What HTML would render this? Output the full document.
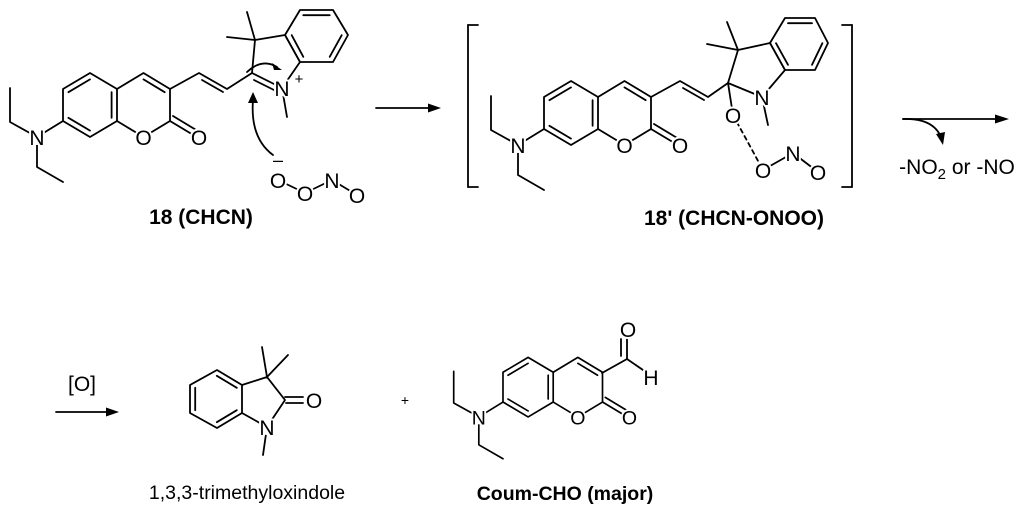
<!DOCTYPE html>
<html><head><meta charset="utf-8"><style>
html,body{margin:0;padding:0;background:#fff;}
svg{display:block;}
.b line,.b polyline,.b path{stroke:#000;stroke-width:1.8;fill:none;stroke-linecap:round;stroke-linejoin:round;}
.a{font-family:"Liberation Sans",sans-serif;font-size:21px;fill:#000;text-anchor:middle;paint-order:stroke;stroke:#fff;stroke-width:4px;stroke-linejoin:round;}
circle.c{fill:#fff;stroke:none;}
.lb{font-family:"Liberation Sans",sans-serif;font-size:21px;font-weight:bold;fill:#000;text-anchor:middle;}
.lt{font-family:"Liberation Sans",sans-serif;font-size:19.5px;fill:#000;text-anchor:middle;}
</style></head><body>
<svg width="1024" height="511" viewBox="0 0 1024 511" xmlns="http://www.w3.org/2000/svg">
<defs>
<g id="coum">
 <g class="b">
  <polyline points="10,88 10,122 37,137 37,167 63,182"/>
  <line x1="37" y1="137" x2="63" y2="121"/>
  <polygon points="90,73 117,89 117,121 90,137 63,121 63,89" style="stroke:#000;stroke-width:1.8;fill:none;stroke-linejoin:round"/>
  <line x1="68.4" y1="92.2" x2="90" y2="79.4"/>
  <line x1="111.6" y1="92.2" x2="111.6" y2="117.8"/>
  <line x1="90" y1="130.6" x2="68.4" y2="117.8"/>
  <polyline points="117,89 143.5,73 170,89 170,121 143.5,137 117,121"/>
  <line x1="143.5" y1="79.4" x2="164.7" y2="92.2"/>
  <line x1="170" y1="121" x2="195" y2="136"/>
  <line x1="173" y1="116" x2="197" y2="130.5"/>
 </g>
  <circle class="c" cx="37" cy="137" r="8"/>
  <circle class="c" cx="143.5" cy="137" r="8"/>
  <circle class="c" cx="199" cy="137" r="8"/>
  <text class="a" x="37" y="145">N</text>
  <text class="a" x="143.5" y="145">O</text>
  <text class="a" x="199" y="145">O</text>
</g>
</defs>

<use href="#coum"/>
<g class="b">
  <polyline points="170,89 199,73 227,89 252,73"/>
  <line x1="202" y1="80" x2="223" y2="92"/>
  <polyline points="252,73 255,40 285,35 300,62 282,88"/>
  <line x1="252" y1="73" x2="282" y2="88"/>
  <line x1="254" y1="80" x2="274" y2="90"/>
  <line x1="255" y1="40" x2="247" y2="12"/>
  <line x1="255" y1="40" x2="227" y2="37"/>
  <polygon points="285,35 300,10 333,10 348,35 333,62 300,62" style="stroke:#000;stroke-width:1.8;fill:none;stroke-linejoin:round"/>
  <line x1="303.3" y1="15.2" x2="329.7" y2="15.2"/>
  <line x1="341.7" y1="35.2" x2="329.7" y2="56.8"/>
  <line x1="291.7" y1="35.2" x2="303.3" y2="56.8"/>
  <line x1="282" y1="88" x2="287" y2="117"/>
  <path d="M247,72 Q262,58 277,67"/>
  <path d="M273,155 Q250,138 253,100"/>
  <line x1="278" y1="180" x2="305" y2="193"/>
  <line x1="305" y1="193" x2="332" y2="180"/>
  <line x1="332" y1="180" x2="357" y2="195"/>
</g>
<polygon points="282,70 272,63 274,70" fill="#000"/>
<polygon points="253,92 248,103 258,103" fill="#000"/>
<circle class="c" cx="282" cy="88" r="8"/>
<circle class="c" cx="278" cy="180" r="8"/>
<circle class="c" cx="305" cy="193" r="8"/>
<circle class="c" cx="332" cy="180" r="8"/>
<circle class="c" cx="357" cy="195" r="8"/>
<text class="a" x="282" y="96">N</text>
<text x="299" y="84" font-family="Liberation Sans,sans-serif" font-size="15" text-anchor="middle">+</text>
<text class="a" x="278" y="188">O</text>
<text x="278" y="166" font-family="Liberation Sans,sans-serif" font-size="18" text-anchor="middle">–</text>
<text class="a" x="305" y="201">O</text>
<text class="a" x="332" y="188">N</text>
<text class="a" x="357" y="203">O</text>
<text class="lb" x="201" y="224">18 (CHCN)</text>

<g class="b"><line x1="376" y1="108" x2="432" y2="108"/></g>
<polygon points="441,108 428,103.5 428,112.5" fill="#000"/>

<g class="b">
  <line x1="468" y1="25" x2="478" y2="25"/><line x1="468" y1="25" x2="468" y2="187"/><line x1="468" y1="187" x2="478" y2="187"/>
  <line x1="842" y1="25" x2="852" y2="25"/><line x1="852" y1="25" x2="852" y2="187"/><line x1="842" y1="187" x2="852" y2="187"/>
</g>
<use href="#coum" transform="translate(481,8)"/>
<g class="b">
  <polyline points="651,97 680,81 708,97 728,83"/>
  <line x1="683" y1="88" x2="704" y2="100"/>
  <polyline points="728,83 738,50 770,43 785,70 762,97 728,83"/>
  <line x1="738" y1="50" x2="727" y2="22"/>
  <line x1="738" y1="50" x2="707" y2="44"/>
  <polygon points="770,43 785,18 815,18 828,43 815,70 785,70" style="stroke:#000;stroke-width:1.8;fill:none;stroke-linejoin:round"/>
  <line x1="788" y1="23.2" x2="812" y2="23.2"/>
  <line x1="822.4" y1="43.2" x2="812" y2="64.8"/>
  <line x1="776" y1="43.2" x2="788" y2="64.8"/>
  <line x1="762" y1="97" x2="768" y2="125"/>
  <line x1="728" y1="83" x2="733" y2="115"/>
  <line x1="733" y1="115" x2="763" y2="170" style="stroke-dasharray:4 4"/>
  <line x1="763" y1="170" x2="793" y2="153"/>
  <line x1="793" y1="153" x2="818" y2="172"/>
</g>
<circle class="c" cx="762" cy="97" r="8"/>
<circle class="c" cx="733" cy="115" r="8"/>
<circle class="c" cx="763" cy="170" r="8"/>
<circle class="c" cx="793" cy="153" r="8"/>
<circle class="c" cx="818" cy="172" r="8"/>
<text class="a" x="762" y="105">N</text>
<text class="a" x="733" y="123">O</text>
<text class="a" x="763" y="178">O</text>
<text class="a" x="793" y="161">N</text>
<text class="a" x="818" y="180">O</text>
<text class="lb" x="734" y="225">18' (CHCN-ONOO)</text>

<g class="b">
  <line x1="903" y1="119" x2="996" y2="119"/>
  <path d="M903,119 Q933,118 941,137"/>
</g>
<polygon points="1009,119 995,114.5 995,123.5" fill="#000"/>
<polygon points="943,145 936,134 945,132" fill="#000"/>
<text x="957" y="174" font-family="Liberation Sans,sans-serif" font-size="21" text-anchor="middle">-NO<tspan font-size="15" dy="5">2</tspan><tspan dy="-5"> or -NO</tspan></text>

<text x="82" y="391" font-family="Liberation Sans,sans-serif" font-size="21" text-anchor="middle">[O]</text>
<g class="b"><line x1="56" y1="412" x2="108" y2="412"/></g>
<polygon points="119,412 106,407.5 106,416.5" fill="#000"/>

<g class="b">
  <polygon points="217,370 242,385 242,413 217,428 190,413 190,385" style="stroke:#000;stroke-width:1.8;fill:none;stroke-linejoin:round"/>
  <line x1="216.8" y1="375.8" x2="236.8" y2="387.8"/>
  <line x1="236.8" y1="410.2" x2="216.8" y2="422.2"/>
  <line x1="195.2" y1="410.2" x2="195.2" y2="387.8"/>
  <polyline points="242,385 267,377 285,400 267,427 242,413"/>
  <line x1="267" y1="377" x2="262" y2="347"/>
  <line x1="267" y1="377" x2="288" y2="355"/>
  <line x1="285" y1="397" x2="303" y2="397"/>
  <line x1="286" y1="403" x2="303" y2="403"/>
  <line x1="267" y1="427" x2="263" y2="455"/>
</g>
<circle class="c" cx="267" cy="427" r="8"/>
<text class="a" x="314" y="408">O</text>
<text class="a" x="267" y="435">N</text>
<text class="lt" x="247" y="499">1,3,3-trimethyloxindole</text>

<text x="405" y="405" font-family="Liberation Sans,sans-serif" font-size="14" text-anchor="middle">+</text>

<use href="#coum" transform="translate(444.4,289.5) scale(0.93)"/>
<g class="b">
  <line x1="602" y1="373" x2="627" y2="359"/>
  <line x1="627" y1="359" x2="627" y2="339"/>
  <line x1="621" y1="356" x2="621" y2="339"/>
  <line x1="627" y1="359" x2="643" y2="370"/>
</g>
<text class="a" x="628" y="337">O</text>
<text class="a" x="651" y="385">H</text>
<text class="lb" x="565" y="500" style="font-size:19.5px">Coum-CHO (major)</text>
</svg>
</body></html>
